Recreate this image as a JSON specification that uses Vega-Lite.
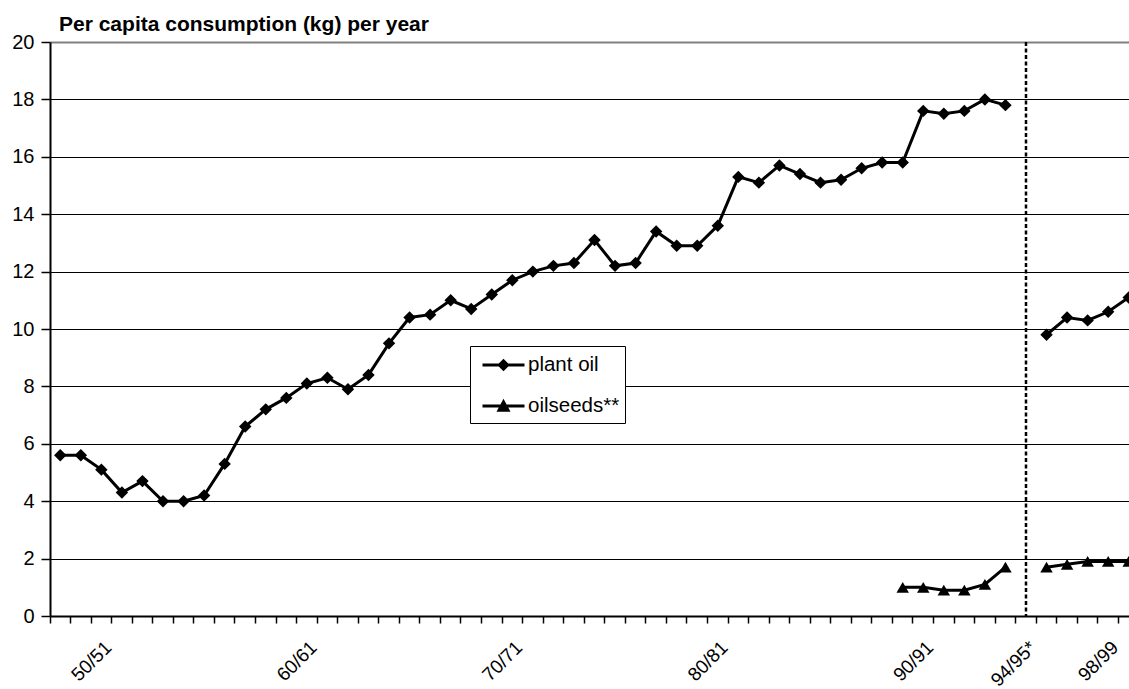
{
  "$schema": "https://vega.github.io/schema/vega-lite/v6.json",
  "width": 1079,
  "height": 574,
  "autosize": {"type": "none"},
  "padding": {"left": 50, "top": 42, "right": 0, "bottom": 73},
  "config": {
    "font": "Liberation Sans",
    "view": {"stroke": null},
    "axis": {"labelColor": "black", "labelFont": "Liberation Sans", "labelFontSize": 20}
  },
  "title": {
    "text": "Per capita consumption (kg) per year",
    "anchor": "start",
    "frame": "group",
    "fontSize": 21,
    "fontWeight": "bold",
    "color": "black",
    "dx": 9,
    "dy": 3,
    "offset": 0
  },
  "datasets": {
    "consumption": [
      {"season": "48/49", "product": "plant oil", "period": "until 94/95", "value": 5.6},
      {"season": "49/50", "product": "plant oil", "period": "until 94/95", "value": 5.6},
      {"season": "50/51", "product": "plant oil", "period": "until 94/95", "value": 5.1},
      {"season": "51/52", "product": "plant oil", "period": "until 94/95", "value": 4.3},
      {"season": "52/53", "product": "plant oil", "period": "until 94/95", "value": 4.7},
      {"season": "53/54", "product": "plant oil", "period": "until 94/95", "value": 4.0},
      {"season": "54/55", "product": "plant oil", "period": "until 94/95", "value": 4.0},
      {"season": "55/56", "product": "plant oil", "period": "until 94/95", "value": 4.2},
      {"season": "56/57", "product": "plant oil", "period": "until 94/95", "value": 5.3},
      {"season": "57/58", "product": "plant oil", "period": "until 94/95", "value": 6.6},
      {"season": "58/59", "product": "plant oil", "period": "until 94/95", "value": 7.2},
      {"season": "59/60", "product": "plant oil", "period": "until 94/95", "value": 7.6},
      {"season": "60/61", "product": "plant oil", "period": "until 94/95", "value": 8.1},
      {"season": "61/62", "product": "plant oil", "period": "until 94/95", "value": 8.3},
      {"season": "62/63", "product": "plant oil", "period": "until 94/95", "value": 7.9},
      {"season": "63/64", "product": "plant oil", "period": "until 94/95", "value": 8.4},
      {"season": "64/65", "product": "plant oil", "period": "until 94/95", "value": 9.5},
      {"season": "65/66", "product": "plant oil", "period": "until 94/95", "value": 10.4},
      {"season": "66/67", "product": "plant oil", "period": "until 94/95", "value": 10.5},
      {"season": "67/68", "product": "plant oil", "period": "until 94/95", "value": 11.0},
      {"season": "68/69", "product": "plant oil", "period": "until 94/95", "value": 10.7},
      {"season": "69/70", "product": "plant oil", "period": "until 94/95", "value": 11.2},
      {"season": "70/71", "product": "plant oil", "period": "until 94/95", "value": 11.7},
      {"season": "71/72", "product": "plant oil", "period": "until 94/95", "value": 12.0},
      {"season": "72/73", "product": "plant oil", "period": "until 94/95", "value": 12.2},
      {"season": "73/74", "product": "plant oil", "period": "until 94/95", "value": 12.3},
      {"season": "74/75", "product": "plant oil", "period": "until 94/95", "value": 13.1},
      {"season": "75/76", "product": "plant oil", "period": "until 94/95", "value": 12.2},
      {"season": "76/77", "product": "plant oil", "period": "until 94/95", "value": 12.3},
      {"season": "77/78", "product": "plant oil", "period": "until 94/95", "value": 13.4},
      {"season": "78/79", "product": "plant oil", "period": "until 94/95", "value": 12.9},
      {"season": "79/80", "product": "plant oil", "period": "until 94/95", "value": 12.9},
      {"season": "80/81", "product": "plant oil", "period": "until 94/95", "value": 13.6},
      {"season": "81/82", "product": "plant oil", "period": "until 94/95", "value": 15.3},
      {"season": "82/83", "product": "plant oil", "period": "until 94/95", "value": 15.1},
      {"season": "83/84", "product": "plant oil", "period": "until 94/95", "value": 15.7},
      {"season": "84/85", "product": "plant oil", "period": "until 94/95", "value": 15.4},
      {"season": "85/86", "product": "plant oil", "period": "until 94/95", "value": 15.1},
      {"season": "86/87", "product": "plant oil", "period": "until 94/95", "value": 15.2},
      {"season": "87/88", "product": "plant oil", "period": "until 94/95", "value": 15.6},
      {"season": "88/89", "product": "plant oil", "period": "until 94/95", "value": 15.8},
      {"season": "89/90", "product": "plant oil", "period": "until 94/95", "value": 15.8},
      {"season": "90/91", "product": "plant oil", "period": "until 94/95", "value": 17.6},
      {"season": "91/92", "product": "plant oil", "period": "until 94/95", "value": 17.5},
      {"season": "92/93", "product": "plant oil", "period": "until 94/95", "value": 17.6},
      {"season": "93/94", "product": "plant oil", "period": "until 94/95", "value": 18.0},
      {"season": "94/95", "product": "plant oil", "period": "until 94/95", "value": 17.8},
      {"season": "95/96", "product": "plant oil", "period": "from 95/96", "value": 9.8},
      {"season": "96/97", "product": "plant oil", "period": "from 95/96", "value": 10.4},
      {"season": "97/98", "product": "plant oil", "period": "from 95/96", "value": 10.3},
      {"season": "98/99", "product": "plant oil", "period": "from 95/96", "value": 10.6},
      {"season": "99/00", "product": "plant oil", "period": "from 95/96", "value": 11.1},
      {"season": "89/90", "product": "oilseeds**", "period": "until 94/95", "value": 1.0},
      {"season": "90/91", "product": "oilseeds**", "period": "until 94/95", "value": 1.0},
      {"season": "91/92", "product": "oilseeds**", "period": "until 94/95", "value": 0.9},
      {"season": "92/93", "product": "oilseeds**", "period": "until 94/95", "value": 0.9},
      {"season": "93/94", "product": "oilseeds**", "period": "until 94/95", "value": 1.1},
      {"season": "94/95", "product": "oilseeds**", "period": "until 94/95", "value": 1.7},
      {"season": "95/96", "product": "oilseeds**", "period": "from 95/96", "value": 1.7},
      {"season": "96/97", "product": "oilseeds**", "period": "from 95/96", "value": 1.8},
      {"season": "97/98", "product": "oilseeds**", "period": "from 95/96", "value": 1.9},
      {"season": "98/99", "product": "oilseeds**", "period": "from 95/96", "value": 1.9},
      {"season": "99/00", "product": "oilseeds**", "period": "from 95/96", "value": 1.9}
    ],
    "series_break": [{"season": "94/95*"}]
  },
  "encoding": {
    "x": {
      "field": "season",
      "type": "ordinal",
      "title": null,
      "scale": {
        "type": "band",
        "paddingInner": 0,
        "paddingOuter": 0,
        "rangeMax": 1089,
        "domain": ["48/49", "49/50", "50/51", "51/52", "52/53", "53/54", "54/55", "55/56", "56/57", "57/58", "58/59", "59/60", "60/61", "61/62", "62/63", "63/64", "64/65", "65/66", "66/67", "67/68", "68/69", "69/70", "70/71", "71/72", "72/73", "73/74", "74/75", "75/76", "76/77", "77/78", "78/79", "79/80", "80/81", "81/82", "82/83", "83/84", "84/85", "85/86", "86/87", "87/88", "88/89", "89/90", "90/91", "91/92", "92/93", "93/94", "94/95", "94/95*", "95/96", "96/97", "97/98", "98/99", "99/00"]
      },
      "axis": {
        "bandPosition": 0,
        "domainColor": "black",
        "domainWidth": 2,
        "tickColor": "black",
        "tickWidth": 1.5,
        "tickSize": 7,
        "labelAngle": -45,
        "labelAlign": "right",
        "labelBaseline": "middle",
        "labelFontSize": 19,
        "labelOffset": 7,
        "labelPadding": 21,
        "labelOverlap": false,
        "labelBound": false,
        "labelExpr": "indexof(['50/51','60/61','70/71','80/81','90/91','94/95*','98/99'], datum.value) >= 0 ? datum.value : ''"
      }
    },
    "y": {
      "field": "value",
      "type": "quantitative",
      "title": null,
      "scale": {"domain": [0, 20], "nice": false},
      "axis": {
        "values": [0, 2, 4, 6, 8, 10, 12, 14, 16, 18, 20],
        "domainColor": "black",
        "domainWidth": 2,
        "tickColor": "black",
        "tickWidth": 1.5,
        "tickSize": 9,
        "labelPadding": 7,
        "grid": true,
        "gridColor": {"condition": {"test": "datum.value === 20", "value": "#808080"}, "value": "black"},
        "gridWidth": {"condition": {"test": "datum.value === 20", "value": 2}, "value": 1},
        "gridOpacity": 1
      }
    }
  },
  "layer": [
    {
      "data": {"name": "consumption"},
      "mark": {"type": "line", "color": "black", "strokeWidth": 3},
      "encoding": {
        "detail": [{"field": "product"}, {"field": "period"}]
      }
    },
    {
      "data": {"name": "consumption"},
      "mark": {"type": "point", "filled": true, "color": "black", "opacity": 1, "size": 155},
      "encoding": {
        "shape": {
          "condition": {"test": "datum.product === 'plant oil'", "value": "diamond"},
          "value": "triangle-up"
        }
      }
    },
    {
      "data": {"name": "consumption"},
      "transform": [{"filter": "datum.value < 0"}],
      "mark": {"type": "point", "filled": false, "fill": "black", "stroke": "black", "strokeWidth": 3, "opacity": 1},
      "encoding": {
        "shape": {
          "field": "product",
          "type": "nominal",
          "scale": {
            "domain": ["plant oil", "oilseeds**"],
            "range": [
              "M-0.52,-0.12H2.84V0.12H-0.52Z M1.16,-0.5L1.66,0L1.16,0.5L0.66,0Z",
              "M-0.52,-0.12H2.84V0.12H-0.52Z M1.16,-0.58L1.72,0.46L0.6,0.46Z"
            ]
          },
          "legend": {
            "title": null,
            "orient": "none",
            "legendX": 420,
            "legendY": 304,
            "padding": 5,
            "rowPadding": 14,
            "symbolSize": 625,
            "symbolStrokeWidth": 3,
            "symbolStrokeColor": "black",
            "symbolFillColor": "black",
            "symbolOpacity": 1,
            "labelOffset": 25,
            "labelFontSize": 20.5,
            "labelColor": "black",
            "strokeColor": "black",
            "fillColor": "white"
          }
        }
      }
    },
    {
      "data": {"name": "series_break"},
      "mark": {"type": "rule", "color": "black", "strokeWidth": 2.5, "strokeDash": [4, 2.5]},
      "encoding": {"y": null}
    }
  ]
}
